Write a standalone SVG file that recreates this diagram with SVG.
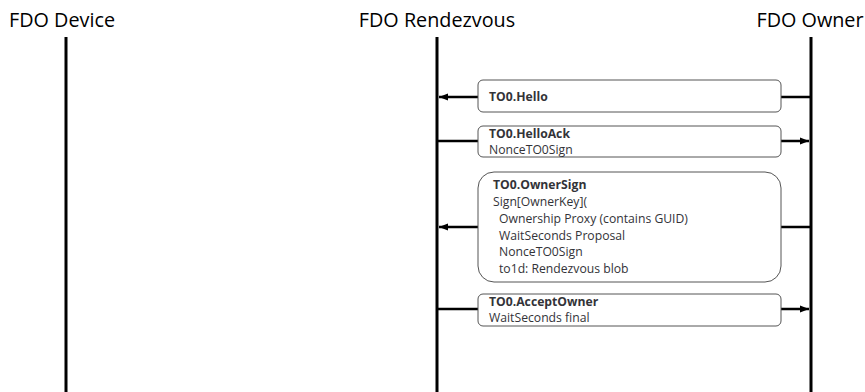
<svg xmlns="http://www.w3.org/2000/svg" width="865" height="392" viewBox="0 0 865 392">
<defs>
<marker id="ah" viewBox="0 0 10 10" refX="10" refY="5" markerWidth="9" markerHeight="9" markerUnits="userSpaceOnUse" orient="auto">
<path d="M0,1 L10,5 L0,9 Z" fill="#000"/>
</marker>
</defs>
<style>
.hdr{font-family:"Open Sans","Liberation Sans",sans-serif;font-size:19.8px;fill:#000}
.life{stroke:#000;stroke-width:3}
.box{fill:#fff;stroke:#555;stroke-width:1}
.t{font-family:"Open Sans","Liberation Sans",sans-serif;font-size:12.2px;fill:#333338}
.b{font-weight:bold}
.msg{stroke:#000;stroke-width:2.5;fill:none}
</style>
<rect width="865" height="392" fill="#fff"/>
<g id="device">
<text class="hdr" x="62" y="27" text-anchor="middle">FDO Device</text>
<line class="life" x1="66" y1="37" x2="66" y2="392"/>
</g>
<g id="rendezvous">
<text class="hdr" x="437" y="27" text-anchor="middle">FDO Rendezvous</text>
<line class="life" x1="437" y1="37" x2="437" y2="392"/>
</g>
<g id="owner">
<text class="hdr" x="810" y="27" text-anchor="middle">FDO Owner</text>
<line class="life" x1="811" y1="37" x2="811" y2="392"/>
</g>
<g id="connectors">
<line class="msg" x1="811" y1="97" x2="439" y2="97" marker-end="url(#ah)"/>
<line class="msg" x1="437" y1="141" x2="809" y2="141" marker-end="url(#ah)"/>
<line class="msg" x1="811" y1="227" x2="439" y2="227" marker-end="url(#ah)"/>
<line class="msg" x1="437" y1="309" x2="809" y2="309" marker-end="url(#ah)"/>
</g>
<g id="msg-hello">
<rect class="box" x="478" y="80" width="303" height="32" rx="5"/>
<text class="t b" x="489" y="101">TO0.Hello</text>
</g>
<g id="msg-helloack">
<rect class="box" x="478" y="126" width="303" height="31" rx="5"/>
<text class="t b" x="489" y="138">TO0.HelloAck</text>
<text class="t" x="489" y="154">NonceTO0Sign</text>
</g>
<g id="msg-ownersign">
<rect class="box" x="478" y="172" width="303" height="110" rx="16"/>
<text class="t b" x="493" y="189">TO0.OwnerSign</text>
<text class="t" x="493" y="206">Sign[OwnerKey](</text>
<text class="t" x="499" y="223">Ownership Proxy (contains GUID)</text>
<text class="t" x="499" y="240">WaitSeconds Proposal</text>
<text class="t" x="499" y="256">NonceTO0Sign</text>
<text class="t" x="499" y="273">to1d: Rendezvous blob</text>
</g>
<g id="msg-acceptowner">
<rect class="box" x="478" y="294" width="303" height="32" rx="5"/>
<text class="t b" x="489" y="306">TO0.AcceptOwner</text>
<text class="t" x="489" y="322">WaitSeconds final</text>
</g>
</svg>
